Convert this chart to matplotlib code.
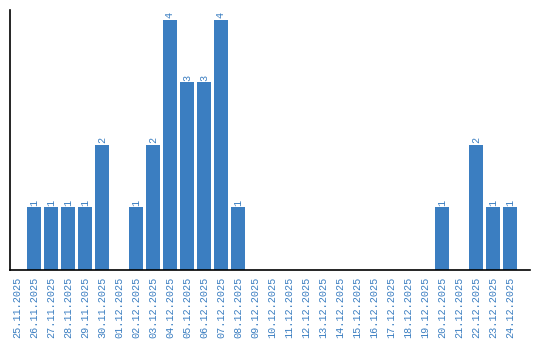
import matplotlib
matplotlib.use("Agg")
import matplotlib.pyplot as plt

dates = ["25.11.2025", "26.11.2025", "27.11.2025", "28.11.2025", "29.11.2025", "30.11.2025",
         "01.12.2025", "02.12.2025", "03.12.2025", "04.12.2025", "05.12.2025", "06.12.2025",
         "07.12.2025", "08.12.2025", "09.12.2025", "10.12.2025", "11.12.2025", "12.12.2025",
         "13.12.2025", "14.12.2025", "15.12.2025", "16.12.2025", "17.12.2025", "18.12.2025",
         "19.12.2025", "20.12.2025", "21.12.2025", "22.12.2025", "23.12.2025", "24.12.2025"]
counts = [0, 1, 1, 1, 1, 2, 0, 1, 2, 4, 3, 3, 4, 1, 0, 0, 0, 0, 0, 0, 0, 0, 0, 0, 0, 1, 0, 2, 1, 1]

color = "#3b7ec1"
font = ["Liberation Mono", "DejaVu Sans Mono"]

fig = plt.figure(figsize=(5.4, 3.4), dpi=100)
ax = fig.add_axes([0.0194, 0.206, 0.9621, 0.7646])
x = list(range(len(dates)))
bars = ax.bar(x, counts, width=0.82, color=color)
for xi, v in zip(x, counts):
    if v > 0:
        ax.text(xi, v + 0.03, str(v), rotation=90, ha="center", va="bottom",
                color=color, fontsize=7.3, family=font)
ax.set_xlim(-0.38, 30.18)
ax.set_ylim(0, 4.16)
ax.set_xticks(x)
ax.set_xticklabels(dates, rotation=90, color=color, fontsize=7.3, family=font)
ax.tick_params(axis="x", length=0, pad=5)
ax.set_yticks([])
for s in ["top", "right"]:
    ax.spines[s].set_visible(False)
for s in ["left", "bottom"]:
    ax.spines[s].set_color("black")
    ax.spines[s].set_linewidth(1.2)
fig.savefig("out.png", dpi=100)
